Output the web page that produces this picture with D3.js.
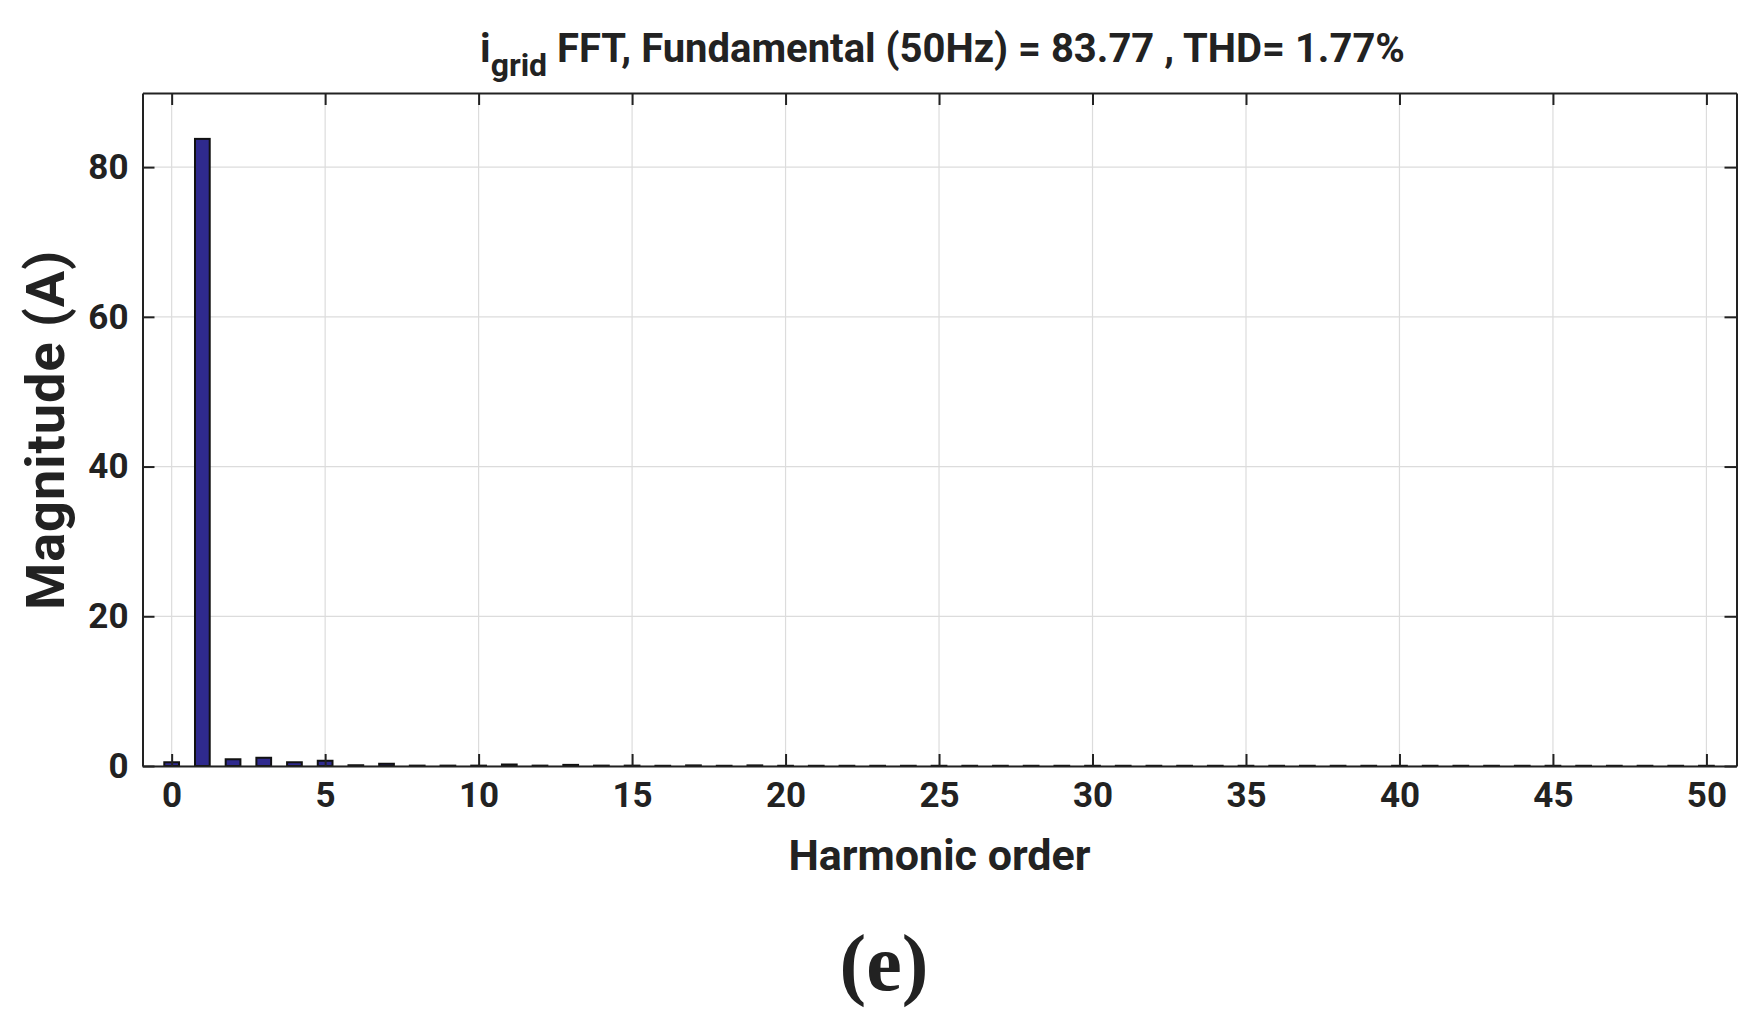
<!DOCTYPE html><html><head><meta charset="utf-8"><script src="https://d3js.org/d3.v7.min.js"></script>
<style>body{margin:0;background:#fff}text{font-family:Roboto,Arial,sans-serif;font-weight:bold;fill:#222}</style></head><body>
<svg id="c" width="1750" height="1022"></svg>
<script>
const harmonics = d3.range(0, 51);
const magnitudes = [0.5,83.77,0.9,1.1,0.5,0.7,0.1,0.3,0.05,0.05,0.05,0.2,0.05,0.15,0.05,0.05,0.03,0.08,0.03,0.08,
 0.03,0.03,0.03,0.03,0.03,0.03,0.03,0.03,0.03,0.03,0.03,0.03,0.03,0.03,0.03,0.03,0.03,0.03,0.03,0.03,
 0.03,0.03,0.03,0.03,0.03,0.03,0.03,0.03,0.03,0.03,0.03];
const xTicks = [0,5,10,15,20,25,30,35,40,45,50];
const yTicks = [0,20,40,60,80];
const svg = d3.select("#c");
const L=142.5,R=1736.5,T=93,B=766;
const x = d3.scaleLinear().domain([-0.95,50.98]).range([L,R]);
const y = d3.scaleLinear().domain([0,89.9]).range([B,T]);
svg.append("g").selectAll("line").data(xTicks).join("line").attr("x1",d=>x(d)).attr("x2",d=>x(d)).attr("y1",T).attr("y2",B).attr("stroke","#dcdcdc").attr("stroke-width",1.2);
svg.append("g").selectAll("line").data(yTicks).join("line").attr("y1",d=>y(d)).attr("y2",d=>y(d)).attr("x1",L).attr("x2",R).attr("stroke","#dcdcdc").attr("stroke-width",1.2);
const bw = x(0.48)-x(0);
svg.append("g").selectAll("rect").data(harmonics).join("rect")
 .attr("x",d=>x(d)-bw/2).attr("width",bw).attr("y",(d,i)=>y(magnitudes[i])).attr("height",(d,i)=>B-y(magnitudes[i]))
 .attr("fill","#2f2a8e").attr("stroke","#111").attr("stroke-width",2);
const ax = d3.axisBottom(x).tickValues(xTicks).tickSizeInner(-12).tickSizeOuter(0).tickPadding(16);
svg.append("g").attr("transform",`translate(0,${B})`).call(ax);
const ay = d3.axisLeft(y).tickValues(yTicks).tickSizeInner(-12).tickSizeOuter(0).tickPadding(14);
svg.append("g").attr("transform",`translate(${L},0)`).call(ay);
svg.append("g").attr("transform",`translate(0,${T})`).call(d3.axisTop(x).tickValues(xTicks).tickSizeInner(-12).tickSizeOuter(0).tickFormat(""));
svg.append("g").attr("transform",`translate(${R},0)`).call(d3.axisRight(y).tickValues(yTicks).tickSizeInner(-12).tickSizeOuter(0).tickFormat(""));
svg.selectAll(".domain").attr("stroke","#222").attr("stroke-width",2);
svg.selectAll(".tick line").attr("stroke","#222").attr("stroke-width",2);
svg.selectAll(".tick text").style("font-size","35px").style("font-family","Roboto").style("font-weight","bold").attr("fill","#222");
svg.append("text").attr("x",(L+R)/2).attr("y",870).attr("text-anchor","middle").style("font-size","43px").text("Harmonic order");
svg.append("text").attr("transform","translate(64,430) rotate(-90)").attr("text-anchor","middle").style("font-size","54px").style("letter-spacing","1px").text("Magnitude (A)");
const t = svg.append("text").attr("x",(L+R)/2+3).attr("y",62).attr("text-anchor","middle").style("font-size","40px");
t.append("tspan").text("i");
t.append("tspan").attr("dy",14).style("font-size","32px").text("grid");
t.append("tspan").attr("dy",-14).text(" FFT, Fundamental (50Hz) = 83.77 , THD= 1.77%");
svg.append("text").attr("x",884).attr("y",990).attr("text-anchor","middle").style("font-family","'Liberation Serif',serif").style("font-size","80px").text("(e)");
</script></body></html>
